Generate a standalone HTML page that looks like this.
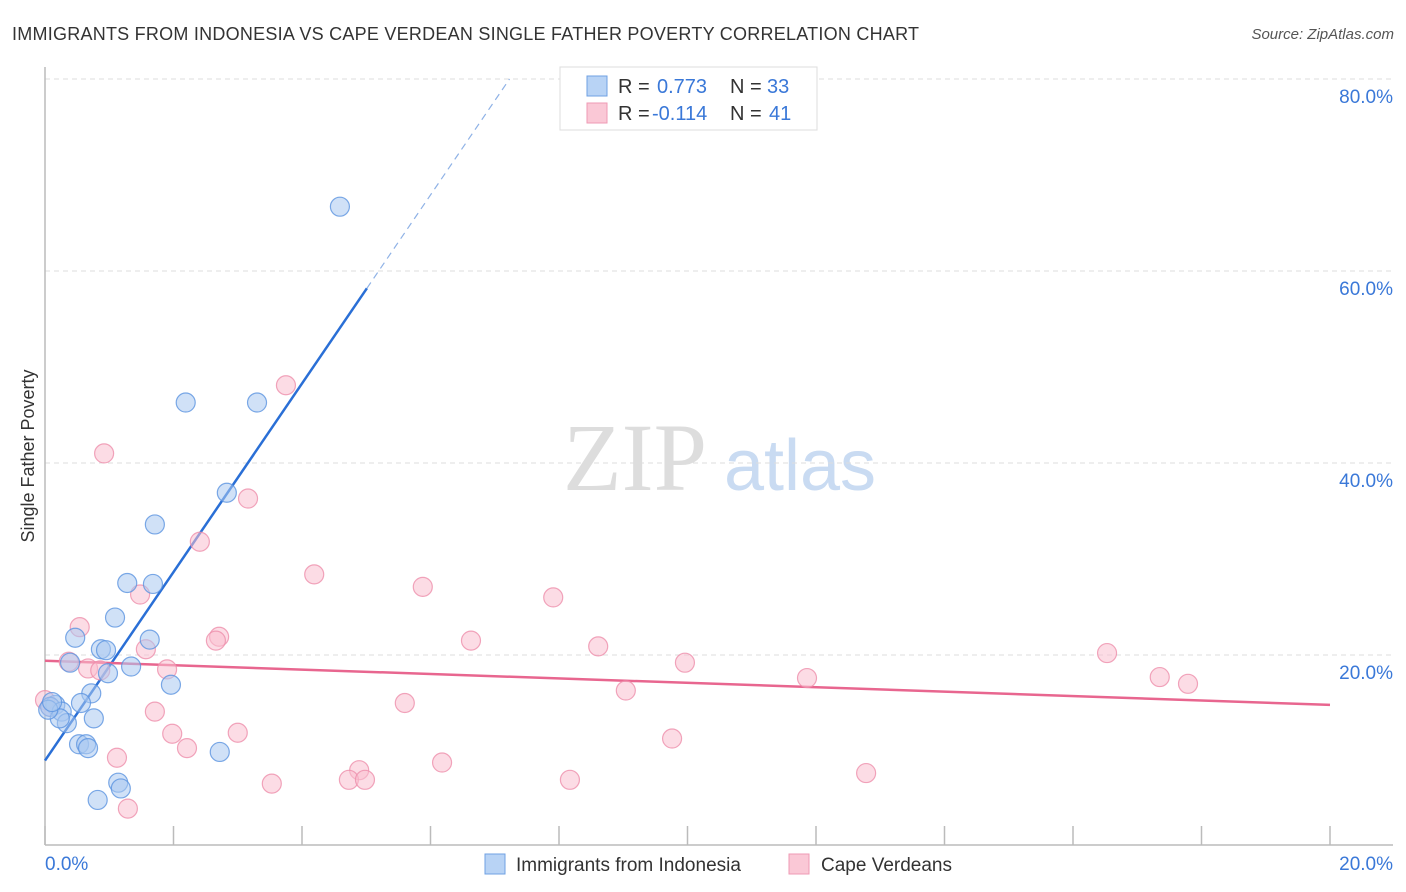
<!DOCTYPE html>
<html><head><meta charset="utf-8"><style>
body{margin:0;background:#fff;font-family:"Liberation Sans",sans-serif;}
svg{display:block}
</style></head><body>
<svg id="chart" width="1406" height="892" xmlns="http://www.w3.org/2000/svg">
<text x="12" y="40" font-size="18" fill="#333" textLength="907">IMMIGRANTS FROM INDONESIA VS CAPE VERDEAN SINGLE FATHER POVERTY CORRELATION CHART</text>
<text x="1394" y="39" font-size="15" fill="#555" font-style="italic" text-anchor="end">Source: ZipAtlas.com</text>
<text x="34" y="456" font-size="18" fill="#333" text-anchor="middle" transform="rotate(-90 34 456)">Single Father Poverty</text>
<g>
<text x="635" y="490" font-size="96" fill="#ddd" font-family="Liberation Serif,serif" text-anchor="middle">ZIP</text>
<text x="800" y="490" font-size="72" fill="#c9dbf2" text-anchor="middle">atlas</text>
</g>
<g id="grid"></g><g id="axes"></g><g id="lines"></g><g id="pts"></g>
<g>
<rect x="560" y="67" width="257" height="63" fill="#fff" stroke="#ddd"/>
<rect x="587" y="76" width="20" height="20" fill="#b8d3f5" stroke="#6fa0e3"/>
<rect x="587" y="103" width="20" height="20" fill="#fac8d6" stroke="#ef9ab4"/>
<text x="618" y="93" font-size="20" fill="#333">R = <tspan x="657" fill="#3a78d8">0.773</tspan><tspan x="730">N = </tspan><tspan x="767" fill="#3a78d8">33</tspan></text>
<text x="618" y="120" font-size="20" fill="#333">R = <tspan x="652" fill="#3a78d8">-0.114</tspan><tspan x="730">N = </tspan><tspan x="769" fill="#3a78d8">41</tspan></text>
</g>
<g>
<rect x="485" y="854" width="20" height="20" fill="#b8d3f5" stroke="#6fa0e3"/>
<text x="516" y="871" font-size="19" fill="#333">Immigrants from Indonesia</text>
<rect x="789" y="854" width="20" height="20" fill="#fac8d6" stroke="#ef9ab4"/>
<text x="821" y="871" font-size="19" fill="#333">Cape Verdeans</text>
</g>
</svg>
<script>
const blueX=[4.59,2.19,3.30,2.83,1.71,1.28,1.68,1.09,1.63,0.47,0.87,0.95,0.39,1.34,0.98,1.96,0.72,0.56,0.16,0.08,0.26,0.76,0.34,0.23,0.53,0.64,0.67,2.72,1.14,1.18,0.82,0.05,0.11];
const blueY=[66.7,46.3,46.3,36.9,33.6,27.5,27.4,23.9,21.6,21.8,20.6,20.5,19.2,18.8,18.1,16.9,16.0,15.0,14.8,14.6,14.1,13.4,12.9,13.4,10.7,10.7,10.3,9.9,6.7,6.1,4.9,14.3,15.1];
const pinkX=[3.75,0.92,3.16,2.41,4.19,5.88,7.91,1.48,0.54,2.71,2.66,6.63,8.61,1.57,16.53,0.37,9.96,0.67,0.86,1.90,17.35,17.79,11.86,9.04,5.60,1.71,1.98,3.00,2.21,9.76,1.12,6.18,4.89,12.78,4.73,4.98,8.17,3.53,1.29,0.0,0.08];
const pinkY=[48.1,41.0,36.3,31.8,28.4,27.1,26.0,26.3,22.9,21.9,21.5,21.5,20.9,20.6,20.2,19.3,19.2,18.6,18.4,18.5,17.7,17.0,17.6,16.3,15.0,14.1,11.8,11.9,10.3,11.3,9.3,8.8,8.0,7.7,7.0,7.0,7.0,6.6,4.0,15.3,14.6];
const blueFit=[9.0,9.82];   // intercept, slope
const blueSolidEnd=5.01;
const pinkFit=[19.4,-0.23];
const yTicks=[20,40,60,80];
const xTickLabels=["0.0%","20.0%"];
const NS="http://www.w3.org/2000/svg";
const sx=v=>45+v*64.25, sy=v=>847-v*9.6;
function mk(tag,attrs,parent){const e=document.createElementNS(NS,tag);for(const k in attrs)e.setAttribute(k,attrs[k]);parent.appendChild(e);return e;}
const grid=document.getElementById('grid'),axes=document.getElementById('axes'),lines=document.getElementById('lines'),pts=document.getElementById('pts');
yTicks.forEach(t=>{
 const l=mk('line',{x1:45,x2:1393,y1:sy(t),y2:sy(t),stroke:'#ddd','stroke-dasharray':'5,4'},grid);
 
 
 const tx=mk('text',{x:1393,y:sy(t)+24,'font-size':19,fill:'#3a78d8','text-anchor':'end'},grid);
 tx.textContent=t.toFixed(1)+'%';
 
 
});
const ya=mk('line',{x1:45,x2:45,y1:67,y2:845,stroke:'#bbb','stroke-width':1.5},axes);


const xa=mk('line',{x1:45,x2:1393,y1:845,y2:845,stroke:'#bbb','stroke-width':1.5},axes);


for(let i=0;i<=10;i++){const t=mk('line',{x1:sx(i*2),x2:sx(i*2),y1:826,y2:845,stroke:'#bbb','stroke-width':1.5},axes);
 
 }
const xl0=mk('text',{x:45,y:870,'font-size':19,fill:'#3a78d8'},axes);xl0.textContent=xTickLabels[0];


const xl1=mk('text',{x:1393,y:870,'font-size':19,fill:'#3a78d8','text-anchor':'end'},axes);xl1.textContent=xTickLabels[1];


function dots(X,Y,fill,stroke,name){X.forEach((x,i)=>{const c=mk('circle',{cx:sx(x),cy:sy(Y[i]),r:9.5,fill:fill,'fill-opacity':0.55,stroke:stroke,'stroke-opacity':0.8,'stroke-width':1.2},pts);
 
 });}
const bEnd=blueSolidEnd, bTop=(80-blueFit[0])/blueFit[1];
const bl=mk('line',{x1:sx(0),y1:sy(blueFit[0]),x2:sx(bEnd),y2:sy(blueFit[0]+blueFit[1]*bEnd),stroke:'#2a6fd6','stroke-width':2.5},lines);


const bd=mk('line',{x1:sx(bEnd),y1:sy(blueFit[0]+blueFit[1]*bEnd),x2:sx(bTop),y2:sy(80),stroke:'#8fb2e6','stroke-width':1.2,'stroke-dasharray':'7,5'},lines);


const pl=mk('line',{x1:sx(0),y1:sy(pinkFit[0]),x2:sx(20),y2:sy(pinkFit[0]+pinkFit[1]*20),stroke:'#e8668f','stroke-width':2.5},lines);


dots(pinkX,pinkY,'#f9bfd0','#ee8fab','cape-verdean-point');
dots(blueX,blueY,'#a9c8f0','#5b93e0','indonesia-point');
</script>
</body></html>
